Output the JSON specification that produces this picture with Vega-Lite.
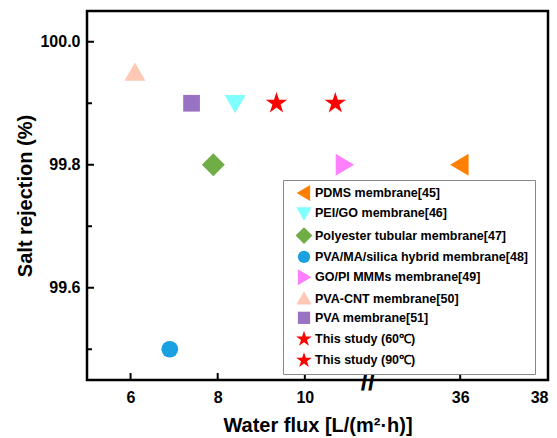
{
  "$schema": "https://vega.github.io/schema/vega-lite/v6.json",
  "width": 461,
  "height": 369,
  "autosize": {"type": "none"},
  "padding": {"left": 87, "top": 11, "right": 9, "bottom": 58},
  "background": "white",
  "config": {
    "font": "Liberation Sans",
    "view": {"stroke": "black", "strokeWidth": 2.5},
    "axis": {
      "domain": false,
      "grid": false,
      "ticks": false,
      "labelFont": "Liberation Sans",
      "labelFontWeight": "bold",
      "labelFontSize": 16,
      "labelColor": "black",
      "titleFont": "Liberation Sans",
      "titleFontWeight": "bold",
      "titleFontSize": 20,
      "titleColor": "black"
    }
  },
  "datasets": {
    "points": [
      {"membrane": "PDMS membrane[45]", "flux": 36.0, "rejection": 99.8},
      {"membrane": "PEI/GO membrane[46]", "flux": 8.4, "rejection": 99.9},
      {"membrane": "Polyester tubular membrane[47]", "flux": 7.9, "rejection": 99.8},
      {"membrane": "PVA/MA/silica hybrid membrane[48]", "flux": 6.9, "rejection": 99.5},
      {"membrane": "GO/PI MMMs membrane[49]", "flux": 10.9, "rejection": 99.8},
      {"membrane": "PVA-CNT membrane[50]", "flux": 6.1, "rejection": 99.95},
      {"membrane": "PVA membrane[51]", "flux": 7.4, "rejection": 99.9},
      {"membrane": "This study (60℃)", "flux": 9.35, "rejection": 99.9},
      {"membrane": "This study (90℃)", "flux": 10.7, "rejection": 99.9}
    ],
    "xticks": [{"flux": 6}, {"flux": 8}, {"flux": 10}, {"flux": 36}],
    "yticksMajor": [{"rejection": 99.6}, {"rejection": 99.8}, {"rejection": 100.0}],
    "yticksMinor": [{"rejection": 99.5}, {"rejection": 99.7}, {"rejection": 99.9}],
    "axisbreak": [
      {"flux": 11.45, "rejection": 99.45, "label": "//"}
    ]
  },
  "layer": [
    {
      "data": {"name": "points"},
      "mark": {"type": "point", "filled": true, "opacity": 1, "size": 280},
      "encoding": {
        "x": {
          "field": "flux",
          "type": "quantitative",
          "title": "Water flux [L/(m²·h)]",
          "scale": {"domain": [5, 11.45, 33.9, 38], "range": [0, 281, 281, 461], "nice": false, "zero": false},
          "axis": {"values": [6, 8, 10, 36, 38], "labelPadding": 9, "titlePadding": 10}
        },
        "y": {
          "field": "rejection",
          "type": "quantitative",
          "title": "Salt rejection (%)",
          "scale": {"domain": [99.45, 100.05], "nice": false, "zero": false},
          "axis": {
            "values": [99.6, 99.8, 100.0],
            "format": ".1f",
            "labelPadding": 7,
            "titlePadding": 4
          }
        },
        "color": {
          "field": "membrane",
          "type": "nominal",
          "scale": {
            "domain": ["PDMS membrane[45]", "PEI/GO membrane[46]", "Polyester tubular membrane[47]", "PVA/MA/silica hybrid membrane[48]", "GO/PI MMMs membrane[49]", "PVA-CNT membrane[50]", "PVA membrane[51]", "This study (60℃)", "This study (90℃)"],
            "range": ["#FF7F00", "#80FFFF", "#70AD47", "#1BA1E2", "#FF80FF", "#FFC8B4", "#9A72C4", "#FF0000", "#FF0000"]
          },
          "legend": {
            "title": null,
            "orient": "none",
            "legendX": 196,
            "legendY": 169,
            "strokeColor": "#888888",
            "fillColor": "white",
            "padding": 6,
            "rowPadding": 5.3,
            "symbolSize": 150,
            "symbolOffset": 8,
            "labelFont": "Liberation Sans",
            "labelFontWeight": "bold",
            "labelFontSize": 12.5,
            "labelColor": "black",
            "labelLimit": 300
          }
        },
        "shape": {
          "field": "membrane",
          "type": "nominal",
          "scale": {
            "domain": ["PDMS membrane[45]", "PEI/GO membrane[46]", "Polyester tubular membrane[47]", "PVA/MA/silica hybrid membrane[48]", "GO/PI MMMs membrane[49]", "PVA-CNT membrane[50]", "PVA membrane[51]", "This study (60℃)", "This study (90℃)"],
            "range": [
              "M-1.2,0L1.0,1.3L1.0,-1.3Z",
              "M0,1.2L1.25,-1.0L-1.25,-1.0Z",
              "M0,-1.37L1.37,0L0,1.37L-1.37,0Z",
              "circle",
              "M1.2,0L-1.0,1.3L-1.0,-1.3Z",
              "M0,-1.2L1.25,1.0L-1.25,1.0Z",
              "square",
              "M0,-1.35L0.303,-0.417L1.284,-0.417L0.49,0.159L0.794,1.092L0,0.516L-0.794,1.092L-0.49,0.159L-1.284,-0.417L-0.303,-0.417Z",
              "M0,-1.35L0.303,-0.417L1.284,-0.417L0.49,0.159L0.794,1.092L0,0.516L-0.794,1.092L-0.49,0.159L-1.284,-0.417L-0.303,-0.417Z"]
          }
        }
      }
    },
    {
      "data": {"name": "xticks"},
      "mark": {"type": "rule", "strokeWidth": 2, "color": "black", "y2Offset": -7},
      "encoding": {
        "x": {"field": "flux", "type": "quantitative"},
        "y": {"datum": 99.45, "type": "quantitative"},
        "y2": {"datum": 99.45}
      }
    },
    {
      "data": {"name": "yticksMajor"},
      "mark": {"type": "rule", "strokeWidth": 2, "color": "black", "x2Offset": 7},
      "encoding": {
        "y": {"field": "rejection", "type": "quantitative"},
        "x": {"datum": 5, "type": "quantitative"},
        "x2": {"datum": 5}
      }
    },
    {
      "data": {"name": "yticksMinor"},
      "mark": {"type": "rule", "strokeWidth": 2, "color": "black", "x2Offset": 5},
      "encoding": {
        "y": {"field": "rejection", "type": "quantitative"},
        "x": {"datum": 5, "type": "quantitative"},
        "x2": {"datum": 5}
      }
    },
    {
      "data": {"name": "axisbreak"},
      "mark": {"type": "text", "fontSize": 26, "fontWeight": "bold", "font": "Liberation Sans", "color": "black", "baseline": "middle", "align": "center", "dy": 2},
      "encoding": {
        "x": {"field": "flux", "type": "quantitative"},
        "y": {"field": "rejection", "type": "quantitative"},
        "text": {"field": "label"}
      }
    }
  ]
}
